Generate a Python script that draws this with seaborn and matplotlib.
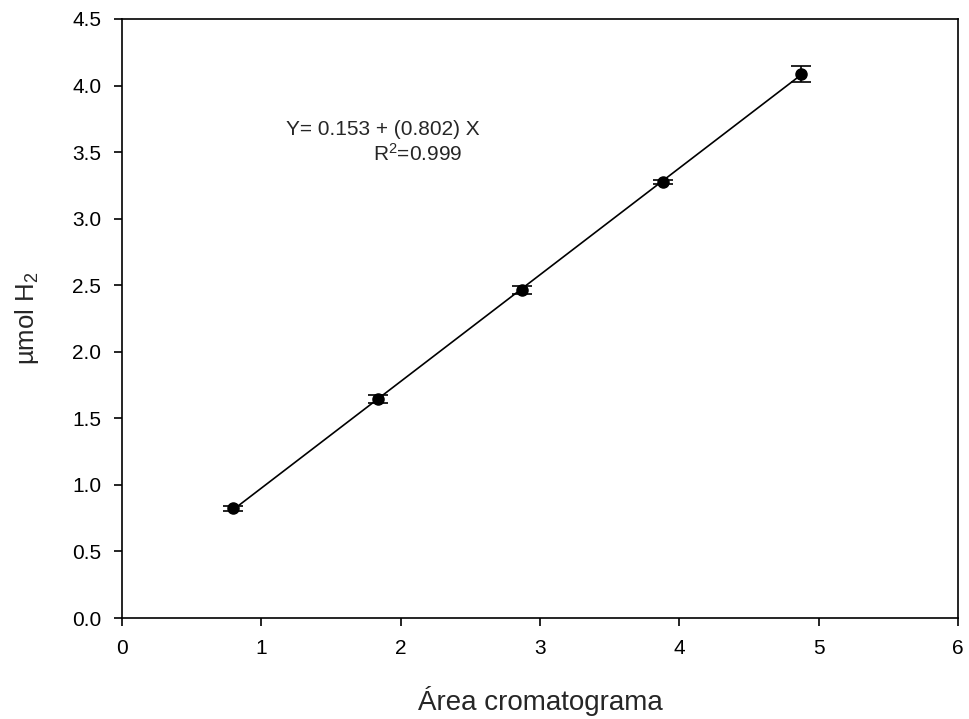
import matplotlib
matplotlib.use("Agg")
import matplotlib.pyplot as plt
import seaborn as sns
import pandas as pd

area = [0.80, 1.84, 2.87, 3.88, 4.87]
umol = [0.825, 1.645, 2.465, 3.275, 4.09]
err = [0.02, 0.03, 0.03, 0.015, 0.06]

sns.set_theme(style="ticks")
plt.rcParams['font.family'] = ['Liberation Sans', 'DejaVu Sans']
plt.rcParams['mathtext.fontset'] = 'custom'
plt.rcParams['mathtext.rm'] = 'Liberation Sans'
plt.rcParams['mathtext.it'] = 'Liberation Sans:italic'

df = pd.DataFrame({"x": area, "y": umol})
fig = plt.figure(figsize=(9.69, 7.19), dpi=100)
ax = fig.add_axes([122/969, 1-618/719, (958-122)/969, (618-19)/719])

sns.regplot(data=df, x="x", y="y", ci=None, scatter=False, truncate=True,
            line_kws=dict(color="black", lw=1.2), ax=ax)
ax.errorbar(area, umol, yerr=err, fmt="o", color="black", ms=8,
            capsize=7, elinewidth=1.2, capthick=1.2)

ax.set_xlim(0, 6)
ax.set_ylim(0, 4.5)
ax.set_xticks(range(0, 7))
ax.set_yticks([i * 0.5 for i in range(10)])
ax.set_yticklabels([f"{i*0.5:.1f}" for i in range(10)])
for s in ax.spines.values():
    s.set_color("black")
    s.set_linewidth(1.2)
ax.tick_params(direction="out", length=6, width=1.2, colors="black",
               labelsize=15, pad=9)
ax.set_xlabel("Área cromatograma", fontsize=20, labelpad=20)
ax.set_ylabel("µmol H$_2$", fontsize=18.5, labelpad=22)

ax.text(1.87, 3.67, "Y= 0.153 + (0.802) X", fontsize=15, ha="center", va="center")
ax.text(2.12, 3.49, "R$^2$=0.999", fontsize=15, ha="center", va="center")

fig.savefig("out.png", dpi=100)
